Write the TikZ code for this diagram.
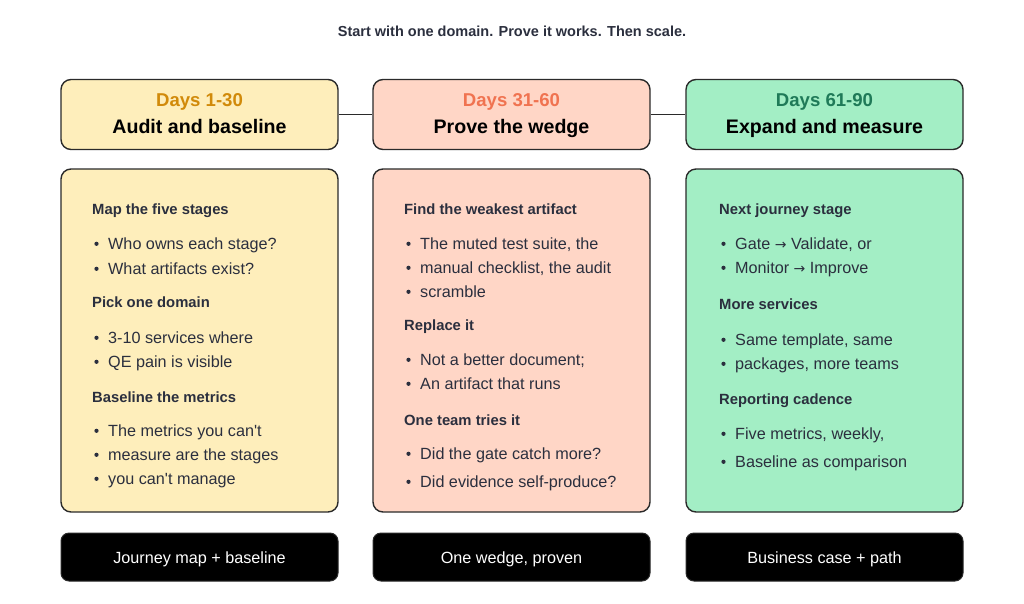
\documentclass[tikz,border=0pt]{standalone}
\usepackage{fontspec}
\setmainfont{Liberation Sans}
\newfontfamily\arrowfont{DejaVu Sans}
\definecolor{ink}{HTML}{2B2F3E}
\definecolor{edge}{HTML}{2A2A2A}
\definecolor{yfill}{HTML}{FEEEBB}
\definecolor{sfill}{HTML}{FFD6C6}
\definecolor{gfill}{HTML}{A3EEC5}
\definecolor{ytxt}{HTML}{D18A0A}
\definecolor{stxt}{HTML}{F07350}
\definecolor{gtxt}{HTML}{1F7A58}
\newcommand{\rarr}{{\arrowfont\fontsize{14}{16}\selectfont →}}
\newcommand{\apos}{\textquotesingle}
\begin{document}
\begin{tikzpicture}[x=1pt,y=-1pt,
  card/.style={draw=edge,line width=1.4pt,rounded corners=10pt,minimum width=277pt,inner sep=0pt},
  headcard/.style={card,minimum height=70pt},
  bodycard/.style={card,minimum height=343pt},
  footcard/.style={fill=black,draw=edge,line width=1pt,rounded corners=8pt,minimum width=277pt,minimum height=48pt},
  foottxt/.style={anchor=base,inner sep=0pt,text=white,font=\fontsize{16.2}{19}\selectfont},
  daystxt/.style={anchor=base,inner sep=0pt,font=\fontsize{18.6}{22}\selectfont\bfseries},
  titletxt/.style={anchor=base,inner sep=0pt,font=\fontsize{19.6}{23}\selectfont\bfseries,text=black},
  sechead/.style={anchor=base west,inner sep=0pt,font=\fontsize{14.8}{17}\selectfont\bfseries,text=ink},
  item/.style={anchor=base west,inner sep=0pt,font=\fontsize{16.2}{19}\selectfont,text=ink},
  dot/.style={fill=ink},
  link/.style={draw=edge,line width=1.4pt}
]
\useasboundingbox (0,0) rectangle (1024,603);
\node[anchor=base,inner sep=0pt,font=\fontsize{14.5}{17}\selectfont\bfseries,text=ink] (title) at (512,36.5) {Start with one domain. Prove it works. Then scale.};

% header cards
\node[headcard,fill=yfill] (h1) at (199.5,114.5) {};
\node[headcard,fill=sfill] (h2) at (511.5,114.5) {};
\node[headcard,fill=gfill] (h3) at (824.5,114.5) {};
\draw[link] (h1.east) -- (h2.west);
\draw[link] (h2.east) -- (h3.west);
\node[daystxt,text=ytxt] (d1) at (199.5,106) {Days 1-30};
\node[titletxt] (t1) at (199.5,133.3) {Audit and baseline};
\node[daystxt,text=stxt] (d2) at (511.5,106) {Days 31-60};
\node[titletxt] (t2) at (511.5,133.3) {Prove the wedge};
\node[daystxt,text=gtxt] (d3) at (824.5,106) {Days 61-90};
\node[titletxt] (t3) at (824.5,133.3) {Expand and measure};

% body cards
\node[bodycard,fill=yfill] (b1) at (199.5,340.5) {};
\node[bodycard,fill=sfill] (b2) at (511.5,340.5) {};
\node[bodycard,fill=gfill] (b3) at (824.5,340.5) {};

% footers
\node[footcard] (f1) at (199.5,557) {};
\node[footcard] (f2) at (511.5,557) {};
\node[footcard] (f3) at (824.5,557) {};
\node[foottxt] (ft1) at (199.5,563.5) {Journey map + baseline};
\node[foottxt] (ft2) at (511.5,563.5) {One wedge, proven};
\node[foottxt] (ft3) at (824.5,563.5) {Business case + path};

% column 1
\foreach \y/\t [count=\i] in {209/Map the five stages,302/Pick one domain,397/Baseline the metrics}
  \node[sechead] (c1h\i) at (92,\y+5.3) {\t};
\foreach \y/\t [count=\i] in {243/Who owns each stage?,268/What artifacts exist?,337/3-10 services where,361/QE pain is visible,430/The metrics you can\apos t,454/measure are the stages,478/you can\apos t manage}{
  \fill[dot] (96.5,\y+0.8) circle (2.1pt);
  \node[item] (c1i\i) at (108,\y+6) {\t};}

% column 2
\foreach \y/\t [count=\i] in {209/Find the weakest artifact,325/Replace it,420/One team tries it}
  \node[sechead] (c2h\i) at (404,\y+5.3) {\t};
\foreach \y/\t [count=\i] in {243/{The muted test suite, the},267/{manual checklist, the audit},291/scramble,359/Not a better document;,383/An artifact that runs,453/Did the gate catch more?,481/Did evidence self-produce?}{
  \fill[dot] (408.5,\y+0.8) circle (2.1pt);
  \node[item] (c2i\i) at (420,\y+6) {\t};}

% column 3
\foreach \y/\t [count=\i] in {209/Next journey stage,304/More services,399/Reporting cadence}
  \node[sechead] (c3h\i) at (719,\y+5.3) {\t};
\foreach \y/\t [count=\i] in {243/{Gate \rarr{} Validate, or},267/{Monitor \rarr{} Improve},339/{Same template, same},363/{packages, more teams},433/{Five metrics, weekly,},461/Baseline as comparison}{
  \fill[dot] (723.5,\y+0.8) circle (2.1pt);
  \node[item] (c3i\i) at (735,\y+6) {\t};}
\end{tikzpicture}
\end{document}
